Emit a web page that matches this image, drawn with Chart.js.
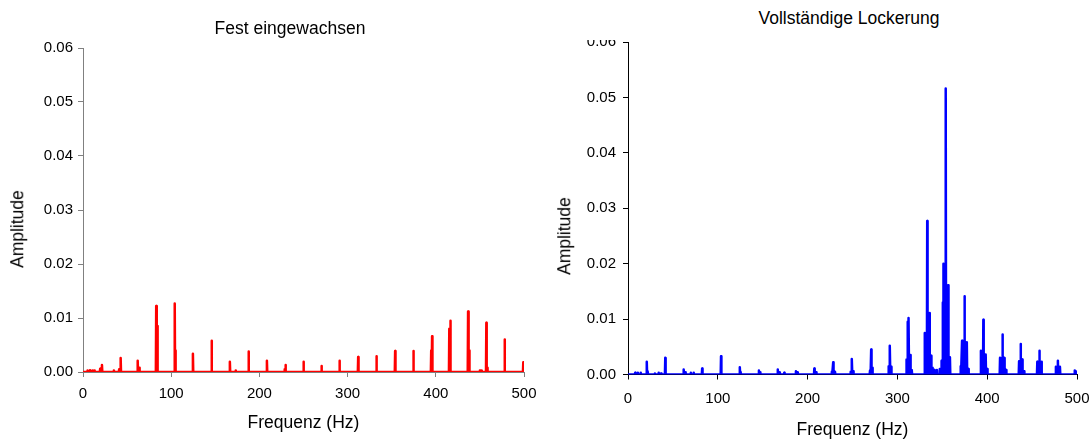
<!DOCTYPE html>
<html><head><meta charset="utf-8">
<script src="https://cdn.jsdelivr.net/npm/chart.js@4.4.1/dist/chart.umd.min.js"></script>
<style>
html,body{margin:0;padding:0;background:#fff;overflow:hidden;width:1091px;height:439px;}
canvas{position:absolute;}
.lbl{position:absolute;font-family:"Liberation Sans",Arial,sans-serif;color:#000;white-space:nowrap;transform:translate(-50%,-50%);line-height:1;}
.rot{transform:translate(-50%,-50%) rotate(-90deg);}
</style></head><body>
<canvas id="c1" width="545" height="439" style="left:0;top:0"></canvas>
<canvas id="c2" width="545" height="402" style="left:546px;top:40px"></canvas>
<div class="lbl" style="left:290px;top:29px;font-size:17.5px">Fest eingewachsen</div>
<div class="lbl" style="left:849px;top:19px;font-size:17.5px">Vollständige Lockerung</div>
<div class="lbl rot" style="left:18px;top:229px;font-size:17.5px">Amplitude</div>
<div class="lbl rot" style="left:565px;top:236px;font-size:17.5px">Amplitude</div>
<script>
// ---- data ----
const xTicks = [0, 100, 200, 300, 400, 500];
const yTicks = [0, 0.01, 0.02, 0.03, 0.04, 0.05, 0.06];

// Left chart: "Fest eingewachsen" (red)
const fixedHz  = [5, 8, 11, 13, 19.5, 21.5, 35, 41, 42.7, 62, 64, 83, 84.2, 104, 105, 124.6, 145.8, 166.5, 173, 187.7, 208.5, 228.5, 229.6, 250, 270.4, 290.8, 312, 332.7, 353.9, 374.6, 394.8, 395.8, 415.3, 416.5, 436.6, 437.8, 450, 452, 457.3, 458.5, 478, 499.2];
const fixedAmp = [0.0003, 0.0003, 0.0003, 0.0003, 0.0006, 0.0013, 0.0003, 0.0005, 0.0026, 0.0021, 0.0008, 0.0122, 0.0085, 0.0127, 0.0040, 0.0034, 0.0058, 0.0019, 0.0003, 0.0038, 0.0021, 0.0005, 0.0013, 0.0019, 0.0011, 0.0021, 0.0028, 0.0029, 0.0039, 0.0039, 0.0040, 0.0066, 0.0080, 0.0095, 0.0112, 0.0040, 0.0003, 0.0003, 0.0091, 0.0008, 0.0060, 0.0018];

// Right chart: "Vollständige Lockerung" (blue)
const looseHz  = [8, 11, 14, 20.9, 22, 30, 34, 37, 41.5, 62, 64, 70, 73, 82.6, 103.6, 124.5, 125.5, 145.8, 147, 166.8, 169, 174, 187, 189, 207.5, 209.5, 227, 228.5, 230.5, 248, 249.4, 251, 269.5, 270.8, 272.2, 290.3, 291.7, 293, 310, 311.5, 312.6, 314.5, 316, 330.5, 333.2, 335.8, 337.5, 339, 341, 344, 347, 349, 350.5, 351.1, 353.8, 356.5, 358.5, 370.5, 372, 374.7, 377.3, 379, 393, 395.7, 398.3, 400, 414.3, 417, 419, 421, 435.5, 437.2, 439, 441, 455.8, 458.1, 460.5, 476.5, 478.7, 481, 497.3, 499];
const looseAmp = [0.0003, 0.0003, 0.0003, 0.0023, 0.0006, 0.0002, 0.0003, 0.0002, 0.0030, 0.0009, 0.0004, 0.0003, 0.0003, 0.0011, 0.0033, 0.0013, 0.0005, 0.0007, 0.0004, 0.0009, 0.0004, 0.0003, 0.0006, 0.0004, 0.0011, 0.0004, 0.0005, 0.0022, 0.0005, 0.0005, 0.0028, 0.0006, 0.0007, 0.0045, 0.0012, 0.0015, 0.0052, 0.0014, 0.0027, 0.0095, 0.0102, 0.0035, 0.0008, 0.0075, 0.0277, 0.0111, 0.0034, 0.0012, 0.0008, 0.0008, 0.0010, 0.0025, 0.0130, 0.0200, 0.0516, 0.0161, 0.0031, 0.0015, 0.0061, 0.0141, 0.0058, 0.0010, 0.0043, 0.0099, 0.0036, 0.0010, 0.0030, 0.0072, 0.0030, 0.0008, 0.0024, 0.0055, 0.0027, 0.0006, 0.0023, 0.0043, 0.0023, 0.0014, 0.0025, 0.0014, 0.0007, 0.0005];

// ---- build spectrum lines (each reading is a narrow spike on the zero baseline) ----
function spectrum(hz, amp, halfWidth) {
  const pts = [{x: 0, y: 0}, {x: 500, y: 0}];
  hz.forEach((f, i) => {
    pts.push({x: f - halfWidth, y: 0});
    pts.push({x: f, y: amp[i]});
    pts.push({x: Math.min(500, f + halfWidth), y: 0});
  });
  pts.sort((a, b) => a.x - b.x);
  return pts;
}

const FONT = '"Liberation Sans", Arial, sans-serif';

function makeChart(id, pts, color, axisColor, o) {
  return new Chart(document.getElementById(id), {
    type: 'line',
    data: { datasets: [{ data: pts, borderColor: color, backgroundColor: color, borderWidth: 2.5, pointRadius: 0, tension: 0, borderJoinStyle: 'round', fill: false }] },
    options: {
      responsive: false, animation: false, parsing: false,
      layout: { padding: { top: o.top, right: o.right, left: 0, bottom: 0 } },
      plugins: { legend: { display: false }, tooltip: { enabled: false }, title: { display: false } },
      scales: {
        x: {
          type: 'linear', min: xTicks[0], max: xTicks[xTicks.length - 1],
          afterBuildTicks: s => { s.ticks = xTicks.map(v => ({ value: v })); },
          afterFit: s => { s.height = o.xHeight; s.paddingLeft = 0; s.paddingRight = 0; },
          grid: { display: true, drawOnChartArea: false, drawTicks: true, tickLength: 5, color: axisColor },
          border: { display: true, color: axisColor, width: 1 },
          ticks: { color: '#000', font: { family: FONT, size: 15 }, padding: o.xPad, maxRotation: 0, callback: v => String(v) },
          title: { display: true, text: 'Frequenz (Hz)', color: '#000', font: { family: FONT, size: 17.5 }, padding: { top: 0, bottom: o.titlePad } }
        },
        y: {
          type: 'linear', min: yTicks[0], max: yTicks[yTicks.length - 1],
          afterBuildTicks: s => { s.ticks = yTicks.map(v => ({ value: v })); },
          afterFit: s => { s.width = o.yWidth; s.paddingTop = 0; s.paddingBottom = 0; },
          grid: { display: true, drawOnChartArea: false, drawTicks: true, tickLength: 5, color: axisColor },
          border: { display: true, color: axisColor, width: 1 },
          ticks: { color: '#000', font: { family: FONT, size: 15 }, padding: o.yPad, callback: v => Number(v).toFixed(2) },
          title: { display: false }
        }
      }
    }
  });
}

makeChart('c1', spectrum(fixedHz, fixedAmp, 0.4), '#ff0000', '#808080',
  { top: 48, right: 21, xHeight: 67, yWidth: 83, xPad: 8, yPad: 5, titlePad: 5 });
makeChart('c2', spectrum(looseHz, looseAmp, 0.4), '#0000ff', '#000000',
  { top: 2, right: 14, xHeight: 67.5, yWidth: 82, xPad: 10, yPad: 7, titlePad: 1 });
</script>
</body></html>
